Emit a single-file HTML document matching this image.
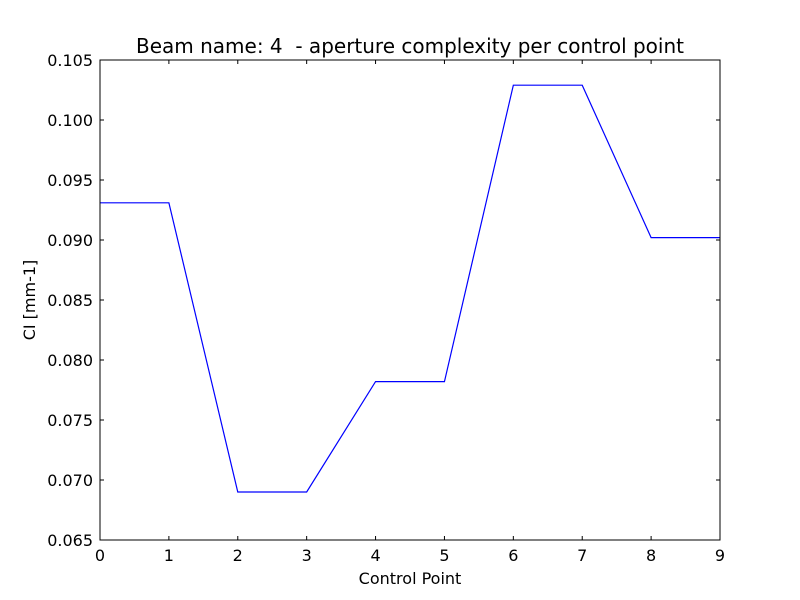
<!DOCTYPE html>
<html><head><meta charset="utf-8"><style>
body{margin:0;background:#fff}
svg{display:block;font-family:"DejaVu Sans","Liberation Sans",sans-serif}
text{white-space:pre}
</style></head><body>
<svg id="chart" width="800" height="600">
<rect width="800" height="600" fill="#fff"/>
<text x="410" y="53" font-size="20" text-anchor="middle" xml:space="preserve">Beam name: 4  - aperture complexity per control point</text>
<text x="410" y="584" font-size="16" text-anchor="middle">Control Point</text>
<text transform="translate(35,300) rotate(-90)" font-size="16" text-anchor="middle">CI [mm-1]</text>
<g id="ticks"></g>
<polyline id="series" fill="none" stroke="#0000ff" stroke-width="1.2"/>
<rect x="100" y="60" width="620" height="480" fill="none" stroke="#000" stroke-width="1"/>
</svg>
<script>
const xValues=[0,1,2,3,4,5,6,7,8,9];
const ciValues=[0.0931,0.0931,0.0690,0.0690,0.0782,0.0782,0.1029,0.1029,0.0902,0.0902];
const xTicks=[0,1,2,3,4,5,6,7,8,9];
const yTicks=[0.065,0.070,0.075,0.080,0.085,0.090,0.095,0.100,0.105];
const yTickLabels=["0.065","0.070","0.075","0.080","0.085","0.090","0.095","0.100","0.105"];
const L=100,R=720,T=60,B=540,xmin=0,xmax=9,ymin=0.065,ymax=0.105;
const sx=v=>L+(v-xmin)/(xmax-xmin)*(R-L);
const sy=v=>B-(v-ymin)/(ymax-ymin)*(B-T);
const NS="http://www.w3.org/2000/svg";
const g=document.getElementById('ticks');
function line(x1,y1,x2,y2){const l=document.createElementNS(NS,'line');l.setAttribute('x1',x1);l.setAttribute('y1',y1);l.setAttribute('x2',x2);l.setAttribute('y2',y2);l.setAttribute('stroke','#000');


g.appendChild(l);}
function text(x,y,s,anchor,name){const t=document.createElementNS(NS,'text');t.setAttribute('x',x);t.setAttribute('y',y);t.setAttribute('font-size','16');t.setAttribute('text-anchor',anchor);t.textContent=s;


g.appendChild(t);}
xTicks.forEach(v=>{const x=sx(v);line(x,B,x,B-4);line(x,T,x,T+4);text(x,B+21,String(v),'middle','x-tick-label');});
yTicks.forEach((v,i)=>{const y=sy(v);line(L,y,L+4,y);line(R,y,R-4,y);text(L-7,y+6,yTickLabels[i],'end','y-tick-label');});
document.getElementById('series').setAttribute('points',xValues.map((x,i)=>sx(x)+','+sy(ciValues[i])).join(' '));
</script>
</body></html>
